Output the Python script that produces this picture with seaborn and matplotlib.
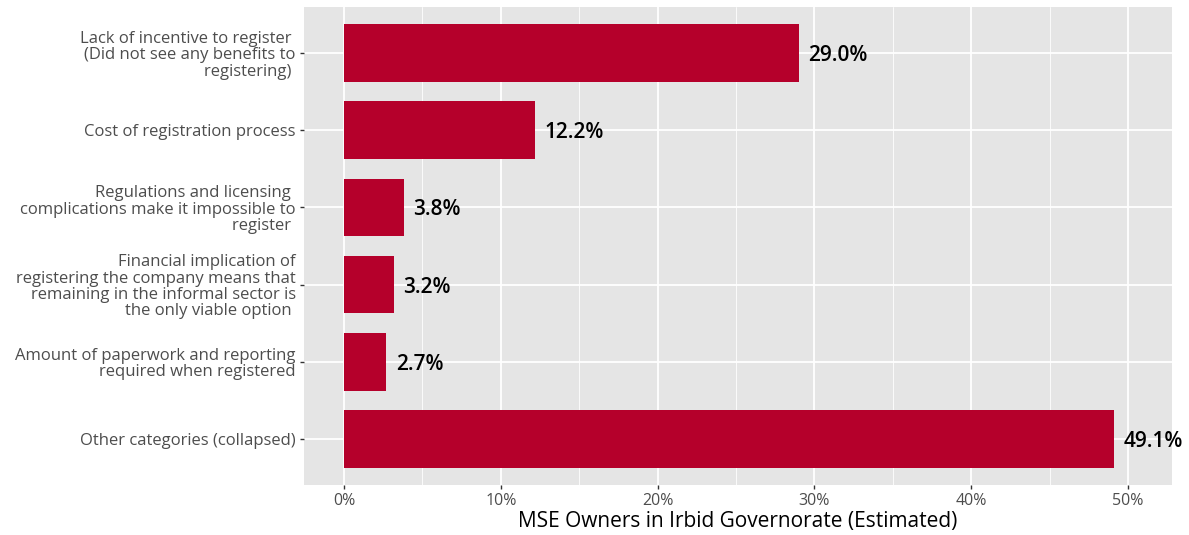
import matplotlib
matplotlib.use("Agg")
import matplotlib.pyplot as plt
import seaborn as sns
import pandas as pd
from matplotlib.ticker import MultipleLocator, FuncFormatter

categories = [
    "Lack of incentive to register \n(Did not see any benefits to\nregistering) ",
    "Cost of registration process",
    "Regulations and licensing \ncomplications make it impossible to\nregister ",
    "Financial implication of\nregistering the company means that\nremaining in the informal sector is\nthe only viable option ",
    "Amount of paperwork and reporting\nrequired when registered",
    "Other categories (collapsed)",
]
values = [29.0, 12.2, 3.8, 3.2, 2.7, 49.1]
value_labels = ["29.0%", "12.2%", "3.8%", "3.2%", "2.7%", "49.1%"]
x_label = "MSE Owners in Irbid Governorate (Estimated)"

df = pd.DataFrame({"category": categories, "value": values})

sns.set_theme(style="whitegrid")
plt.rcParams["font.family"] = ["Open Sans", "DejaVu Sans"]

fig = plt.figure(figsize=(11.89, 5.35), dpi=100)
W, H = 1189, 535
ax = fig.add_axes([304 / W, 1 - 485 / H, (1172 - 304) / W, (485 - 7) / H])
ax.set_facecolor("#E5E5E5")

sns.barplot(data=df, y="category", x="value", color="#B5002B", width=0.75,
            saturation=1, ax=ax, orient="h", zorder=3, linewidth=0)

ax.set_xlim(-2.55, 52.8)
ax.set_ylim(5.6, -0.6)
ax.xaxis.set_major_locator(MultipleLocator(10))
ax.xaxis.set_minor_locator(MultipleLocator(5))
ax.xaxis.set_major_formatter(FuncFormatter(lambda v, p: f"{v:.0f}%"))
ax.grid(which="major", axis="both", color="white", linewidth=1.3, zorder=0)
ax.grid(which="minor", axis="x", color="white", linewidth=0.6, zorder=0)
ax.set_axisbelow(True)
for s in ax.spines.values():
    s.set_visible(False)

ax.tick_params(axis="both", which="major", length=3, width=1, color="#333333",
               labelcolor="#4D4D4D", pad=3, bottom=True, left=True)
ax.tick_params(axis="y", labelsize=12)
ax.tick_params(axis="x", labelsize=11.5)
ax.tick_params(axis="x", which="minor", length=0)
for t in ax.get_yticklabels():
    t.set_linespacing(1.02)
ax.set_ylabel("")
ax.set_xlabel(x_label, fontsize=15, color="black", labelpad=1)

for i, (v, lab) in enumerate(zip(values, value_labels)):
    ax.text(v + 0.6, i, lab, va="center_baseline", ha="left", fontsize=15,
            color="black", fontweight="semibold")

fig.savefig("out.png", dpi=100)
